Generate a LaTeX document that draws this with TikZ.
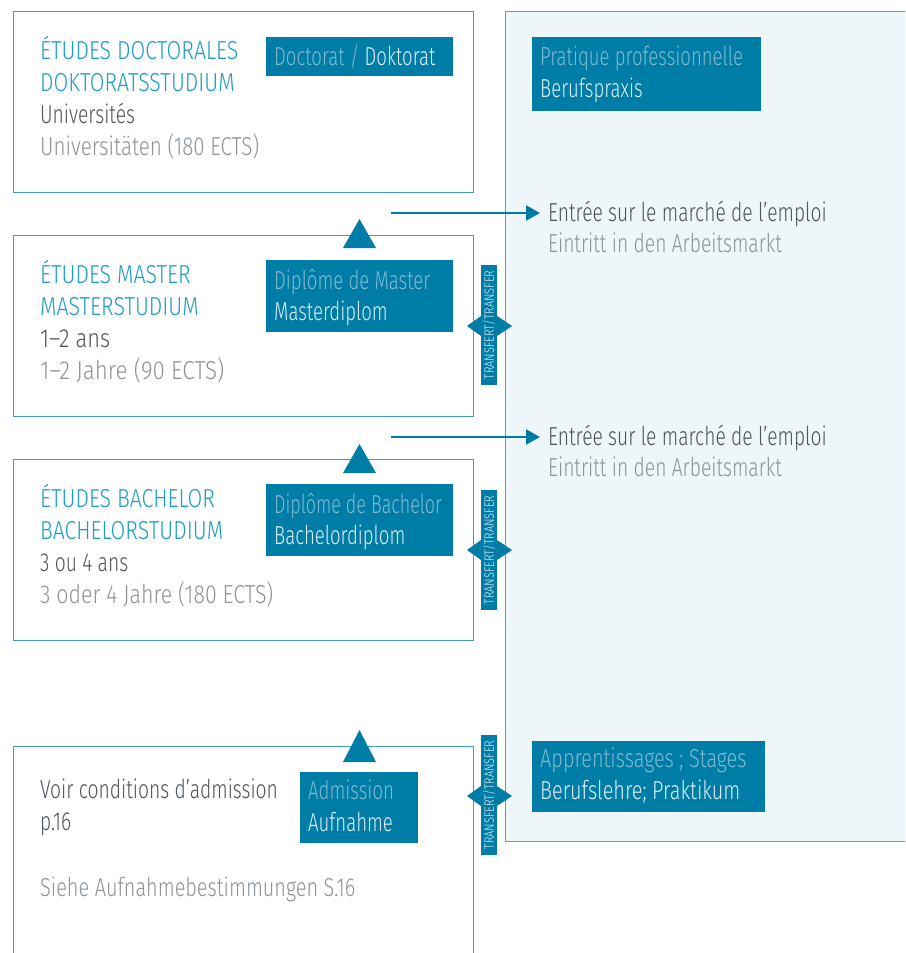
\documentclass[tikz,border=0pt]{standalone}
\usepackage{fontspec}
\setmainfont{Fira Sans Light}[FakeStretch=0.74]
\newfontfamily\headfont{Fira Sans Light}[FakeStretch=0.82]
\newfontfamily\labfont{Fira Sans Light}[FakeStretch=0.715]
\newfontfamily\labnarrow{Fira Sans Light}[FakeStretch=0.69]
\newfontfamily\wideA{Fira Sans Light}[FakeStretch=0.86]
\newfontfamily\wideB{Fira Sans Light}[FakeStretch=0.82]
\newfontfamily\wideC{Fira Sans Light}[FakeStretch=0.79]
\newfontfamily\wideD{Fira Sans Light}[FakeStretch=0.84]
\newfontfamily\wideE{Fira Sans Light}[FakeStretch=0.765]
\usetikzlibrary{arrows.meta}
\definecolor{boxline}{HTML}{3F9DC2}
\definecolor{labfill}{HTML}{007DA6}
\definecolor{lablight}{HTML}{7DBAD3}
\definecolor{labwhite}{HTML}{DCEEF5}
\definecolor{headc}{HTML}{1E9CC4}
\definecolor{darkc}{HTML}{4D555C}
\definecolor{greyc}{HTML}{8C949B}
\definecolor{panelfill}{HTML}{EFF6FA}
\definecolor{panelline}{HTML}{4FA3C5}
\newcommand\fs{\fontsize{26}{31}\selectfont}
\begin{document}
\begin{tikzpicture}[x=1pt,y=-1pt,
  stagebox/.style={draw=boxline, line width=1.4pt, fill=white, inner sep=0pt, anchor=north west, minimum width=460pt},
  panelbox/.style={draw=panelline, line width=1.4pt, fill=panelfill, inner sep=0pt, anchor=north west},
  labbox/.style={fill=labfill, inner sep=0pt, anchor=north west},
  txt/.style={anchor=base west, inner sep=0pt, font=\fs},
  head/.style={txt, text=headc, font=\fs\headfont},
  dk/.style={txt, text=darkc},
  gr/.style={txt, text=greyc},
  ll/.style={txt, text=lablight, font=\fs\labfont},
  lw/.style={txt, text=labwhite, font=\fs\labfont},
  tri/.style={fill=labfill},
  arr/.style={draw=labfill, line width=2.2pt, -{Triangle[length=14pt,width=15pt]}},
  trbox/.style={fill=labfill, text=labwhite, rotate=90, inner sep=0pt, minimum width=120pt, minimum height=16pt, font=\fontsize{13.5}{14}\selectfont\headfont}
]
\useasboundingbox (0,0) rectangle (905,953);
\clip (0,0) rectangle (905,953);

% right panel
\node[panelbox, minimum width=430pt, minimum height=830pt] (panel) at (505,11) {};

% stage boxes
\node[stagebox, minimum height=181pt] (doc) at (13,11) {};
\node[stagebox, minimum height=181pt] (mas) at (13,235) {};
\node[stagebox, minimum height=181pt] (bac) at (13,459) {};
\node[stagebox, minimum height=240pt] (adm) at (13,746) {};

% triangles
\fill[tri] (343,248) -- (359.5,219) -- (376,248) -- cycle;
\fill[tri] (343,473) -- (359.5,444) -- (376,473) -- cycle;
\fill[tri] (343,762) -- (359.5,730) -- (376,762) -- cycle;

% label boxes
\node[labbox, minimum width=187pt, minimum height=39pt] (ldoc) at (266,37) {};
\node[labbox, minimum width=187pt, minimum height=72pt] (lmas) at (266,260) {};
\node[labbox, minimum width=187pt, minimum height=72pt] (lbac) at (266,484) {};
\node[labbox, minimum width=118pt, minimum height=71pt] (ladm) at (300,772) {};
\node[labbox, minimum width=229pt, minimum height=74pt] (lpra) at (532,37) {};
\node[labbox, minimum width=233pt, minimum height=71pt] (lapp) at (532,741) {};

% doctorat texts
\node[head] (d1) at (40,59) {ÉTUDES DOCTORALES};
\node[head] (d2) at (40,91) {DOKTORATSSTUDIUM};
\node[dk] (d3) at (40,123) {Universités};
\node[gr, font=\fs\wideC] (d4) at (40,155) {Universitäten (180 ECTS)};
\node[txt, font=\fs\labfont] (dl) at (274,65) {\textcolor{lablight}{Doctorat /} \textcolor{labwhite}{Doktorat}};

% master texts
\node[head] (m1) at (40,283) {ÉTUDES MASTER};
\node[head] (m2) at (40,315) {MASTERSTUDIUM};
\node[dk, font=\fs\wideD] (m3) at (40,347) {1–2 ans};
\node[gr, font=\fs\wideA] (m4) at (40,379) {1–2 Jahre (90 ECTS)};
\node[ll] (ml1) at (274,289) {Diplôme de Master};
\node[lw] (ml2) at (274,320) {Masterdiplom};

% bachelor texts
\node[head] (b1) at (40,507) {ÉTUDES BACHELOR};
\node[head] (b2) at (40,539) {BACHELORSTUDIUM};
\node[dk] (b3) at (40,571) {3 ou 4 ans};
\node[gr, font=\fs\wideB] (b4) at (40,603) {3 oder 4 Jahre (180 ECTS)};
\node[ll, font=\fs\labnarrow] (bl1) at (274,513) {Diplôme de Bachelor};
\node[lw] (bl2) at (274,544) {Bachelordiplom};

% admission texts
\node[dk] (a1) at (40,798) {Voir conditions d’admission};
\node[dk] (a2) at (40,830) {p.16};
\node[gr, font=\fs\wideE] (a3) at (40,896) {Siehe Aufnahmebestimmungen S.16};
\node[ll] (al1) at (308,799) {Admission};
\node[lw] (al2) at (308,831) {Aufnahme};

% panel labels
\node[ll] (p1) at (540,65) {Pratique professionnelle};
\node[lw] (p2) at (540,97) {Berufspraxis};
\node[ll, font=\fs\wideE] (ap1) at (540,767) {Apprentissages ; Stages};
\node[lw, font=\fs\wideE] (ap2) at (540,799) {Berufslehre; Praktikum};

% market entry
\node[dk] (e1) at (548,221) {Entrée sur le marché de l’emploi};
\node[gr] (e2) at (548,252) {Eintritt in den Arbeitsmarkt};
\node[dk] (f1) at (548,445) {Entrée sur le marché de l’emploi};
\node[gr] (f2) at (548,476) {Eintritt in den Arbeitsmarkt};
\coordinate (s1) at (391,213);
\coordinate (s2) at (391,437);
\draw[arr, shorten >=8pt] (s1) -- (s1 -| e1.west);
\draw[arr, shorten >=8pt] (s2) -- (s2 -| f1.west);

% transfer markers
\foreach \yy in {326, 550, 796}{
  \fill[labfill] (467,\yy) -- (481,\yy-10) -- (497,\yy-10) -- (512,\yy) -- (497,\yy+10) -- (481,\yy+10) -- cycle;
}
\node[trbox] (t1) at (489,325) {TRANSFERT/TRANSFER};
\node[trbox] (t2) at (489,550) {TRANSFERT/TRANSFER};
\node[trbox] (t3) at (489,795) {TRANSFERT/TRANSFER};
\end{tikzpicture}
\end{document}
